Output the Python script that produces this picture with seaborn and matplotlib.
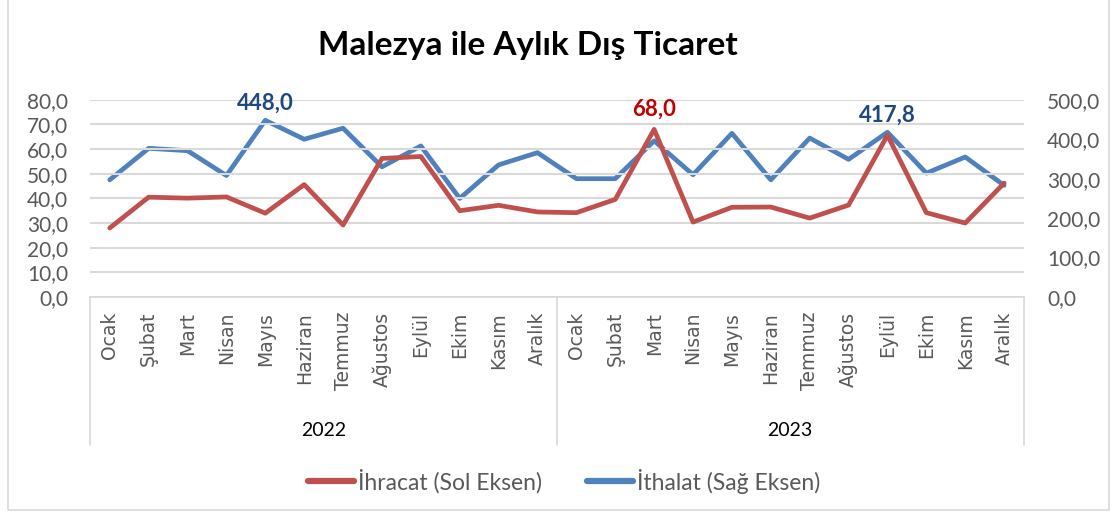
import os
import numpy as np
import pandas as pd
import matplotlib
matplotlib.use("Agg")
import matplotlib.pyplot as plt
from matplotlib.lines import Line2D
from matplotlib.font_manager import FontProperties
import seaborn as sns

# ---------------- data ----------------
MONTHS = ["Ocak", "Şubat", "Mart", "Nisan", "Mayıs", "Haziran",
          "Temmuz", "Ağustos", "Eylül", "Ekim", "Kasım", "Aralık"]
YEARS = ["2022", "2023"]

ihracat = [28.0, 40.5, 40.1, 40.6, 34.0, 45.6, 29.2, 56.2, 57.0, 35.0, 37.2, 34.5,
           34.2, 39.6, 68.0, 30.4, 36.4, 36.5, 32.0, 37.3, 65.6, 34.2, 30.0, 46.2]
ithalat = [297, 377, 371, 308, 448.0, 400, 428, 330, 383, 250, 335, 366,
           300, 300, 396, 310, 415, 297, 403, 349, 417.8, 314, 355, 283]

df = pd.DataFrame({
    "idx": np.arange(len(ihracat)),
    "ay": MONTHS * len(YEARS),
    "yil": np.repeat(YEARS, len(MONTHS)),
    "ihracat": ihracat,
    "ithalat": ithalat,
})

RED = "#C0504D"
BLUE = "#4F81BD"
GRAY = "#595959"
GRID = "#D9D9D9"


def tr_num(v):
    return f"{v:.1f}".replace(".", ",")


sns.set_theme(style="white")
plt.rcParams["font.family"] = ["Lato", "DejaVu Sans"]

# wide face for month names (bundled DejaVu Sans file)
dv_path = os.path.join(matplotlib.get_data_path(), "fonts", "ttf", "DejaVuSans.ttf")
if os.path.exists(dv_path):
    month_fp = FontProperties(fname=dv_path, size=13.5)
else:
    month_fp = FontProperties(family="Open Sans", size=14)

fig = plt.figure(figsize=(11.15, 5.15), dpi=100)
ax = fig.add_axes([0.081, 0.4233, 0.837, 0.3829])
ax2 = ax.twinx()

sns.lineplot(data=df, x="idx", y="ihracat", ax=ax, color=RED, linewidth=3.4,
             solid_capstyle="round", solid_joinstyle="round", zorder=3)
sns.lineplot(data=df, x="idx", y="ithalat", ax=ax2, color=BLUE, linewidth=3.4,
             solid_capstyle="round", solid_joinstyle="round", zorder=2)
ax.set_zorder(ax2.get_zorder() + 1)
ax.patch.set_visible(False)

n = len(df)
ax.set_xlim(-0.5, n - 0.5)
ax.set_ylim(0, 80)
ax2.set_ylim(0, 500)
ax.set_yticks(np.arange(0, 81, 10))
ax2.set_yticks(np.arange(0, 501, 100))
ax.set_yticklabels([tr_num(v) for v in np.arange(0, 81, 10)])
ax2.set_yticklabels([tr_num(v) for v in np.arange(0, 501, 100)])
ax.yaxis.grid(True, color=GRID, linewidth=1.5)
ax.set_axisbelow(True)
ax.tick_params(axis="y", length=0, pad=16, labelsize=15, labelcolor=GRAY)
ax2.tick_params(axis="y", length=0, pad=17, labelsize=15, labelcolor=GRAY)

ax.set_xticks(df["idx"])
ax.set_xticklabels([])
ax.tick_params(axis="x", length=0)
ax.set_xlabel("")
ax.set_ylabel("")
ax2.set_ylabel("")

for a in (ax, ax2):
    for s in a.spines.values():
        s.set_visible(False)
ax.spines["bottom"].set_visible(True)
ax.spines["bottom"].set_color(GRID)
ax.spines["bottom"].set_linewidth(1.2)

# multi-level category axis: month names, separators, year labels
tr = ax.get_xaxis_transform()
for i, m in zip(df["idx"], df["ay"]):
    ax.text(i, -0.075, m, transform=tr, rotation=90, ha="center", va="top",
            color=GRAY, fontproperties=month_fp)
for xpos in [-0.5, len(MONTHS) - 0.5, n - 0.5]:
    ax.add_line(Line2D([xpos, xpos], [0, -0.75], transform=tr, color=GRID,
                       linewidth=1.2, clip_on=False))
for i, yr in enumerate(YEARS):
    ax.text(i * len(MONTHS) + (len(MONTHS) - 1) / 2, -0.675, yr, transform=tr,
            ha="center", va="center", fontsize=14, color="black")

# data labels (drawn on the top axes so they sit over the grid)
lbl = dict(ha="center", va="bottom", fontsize=16, fontweight="bold",
           textcoords="offset points", zorder=10)
i_may = 4
ax.annotate(tr_num(ithalat[i_may]), (i_may, ithalat[i_may]), xycoords=ax2.transData,
            xytext=(0, 5), color="#1F497D", **lbl)
i_mar = 14
ax.annotate(tr_num(ihracat[i_mar]), (i_mar, ihracat[i_mar]),
            xytext=(0, 7), color="#C00000", **lbl)
i_eyl = 20
ax.annotate(tr_num(ithalat[i_eyl]), (i_eyl, ithalat[i_eyl]), xycoords=ax2.transData,
            xytext=(0, 5), color="#1F497D", **lbl)

fig.suptitle("Malezya ile Aylık Dış Ticaret", x=0.473, y=0.94, fontsize=24,
             fontweight="bold", color="black")

handles = [Line2D([], [], color=RED, linewidth=4.5, solid_capstyle="round"),
           Line2D([], [], color=BLUE, linewidth=4.5, solid_capstyle="round")]
fig.legend(handles, ["İhracat (Sol Eksen)", "İthalat (Sağ Eksen)"],
           loc="center", bbox_to_anchor=(0.506, 0.066), ncol=2, frameon=False,
           fontsize=16.5, labelcolor=GRAY, handlelength=2.0, handletextpad=0.15,
           columnspacing=2.0)

# chart area border
fig.add_artist(plt.Rectangle((0.007, 0.01), 0.988, 0.995, transform=fig.transFigure,
                             fill=False, edgecolor=GRID, linewidth=1.2))

fig.savefig("out.png", dpi=100)
